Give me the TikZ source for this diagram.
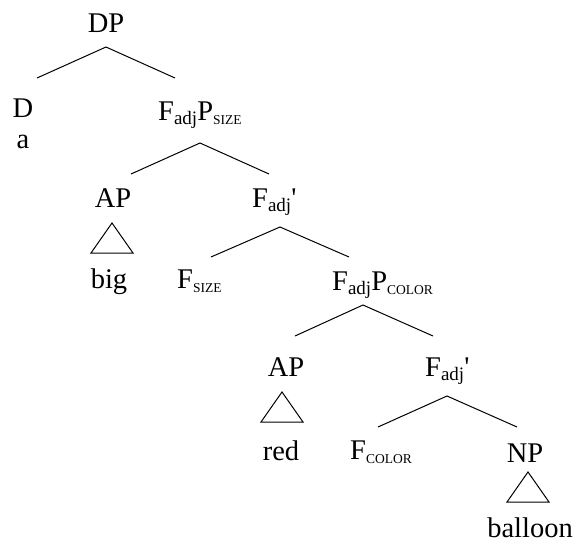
\documentclass[tikz,border=0pt]{standalone}
\usepackage{fontspec}
\setmainfont{Liberation Serif}
\usepackage{tikz}
\newcommand{\adj}{\raisebox{-4pt}{\fontsize{19}{20}\selectfont adj}}
\newcommand{\feat}[1]{\raisebox{-4pt}{\fontsize{13.5}{14}\selectfont #1}}
\newcommand{\prm}{\XeTeXglyph\XeTeXcharglyph"27\relax}
\tikzset{
  lab/.style={inner sep=0pt,font=\fontsize{28.5}{30}\selectfont,anchor=base},
  labw/.style={lab,anchor=base west},
  branch/.style={line width=1pt},
}

\begin{document}
\begin{tikzpicture}[x=1pt,y=-1pt]
\useasboundingbox (0,0) rectangle (574,542);
% labels
\node[lab]  (DP)   at (106,32)  {DP};
\node[lab]  (D)    at (23,117)  {D};
\node[lab]  (a)    at (23,148)  {a};
\node[labw] (FPs)  at (158,120) {F\adj P\feat{SIZE}};
\node[lab]  (AP1)  at (113,207) {AP};
\node[labw] (Fb1)  at (252,207) {F\adj\prm};
\node[lab]  (big)  at (109,288) {big};
\node[labw] (Fs)   at (177,288) {F\feat{SIZE}};
\node[labw] (FPc)  at (332,290) {F\adj P\feat{COLOR}};
\node[lab]  (AP2)  at (286,376) {AP};
\node[labw] (Fb2)  at (425,376) {F\adj\prm};
\node[lab]  (red)  at (281,460) {red};
\node[labw] (Fc)   at (350,459) {F\feat{COLOR}};
\node[lab]  (NP)   at (525,462) {NP};
\node[lab]  (bal)  at (530,537) {balloon};
% branch points
\coordinate (DP-b)  at (106,47);  \coordinate (D-t)   at (37,78);   \coordinate (FPs-t) at (175,78);
\coordinate (FPs-b) at (200,143); \coordinate (AP1-t) at (131,174); \coordinate (Fb1-t) at (269,174);
\coordinate (Fb1-b) at (280,227); \coordinate (Fs-t)  at (211,257); \coordinate (FPc-t) at (349,257);
\coordinate (FPc-b) at (363,305); \coordinate (AP2-t) at (295,336); \coordinate (Fb2-t) at (433,336);
\coordinate (Fb2-b) at (447,396); \coordinate (Fc-t)  at (378,427); \coordinate (NP-t)  at (517,427);
\draw[branch] (D-t) -- (DP-b) -- (FPs-t);
\draw[branch] (AP1-t) -- (FPs-b) -- (Fb1-t);
\draw[branch] (Fs-t) -- (Fb1-b) -- (FPc-t);
\draw[branch] (AP2-t) -- (FPc-b) -- (Fb2-t);
\draw[branch] (Fc-t) -- (Fb2-b) -- (NP-t);
% triangles
\coordinate (tri1) at (112,223);
\coordinate (tri2) at (282,392);
\coordinate (tri3) at (528,472);
\foreach \t in {tri1,tri2,tri3}
  \draw[branch] (\t) -- ++(-21,30) -- ++(42,0) -- cycle;
\end{tikzpicture}
\end{document}
